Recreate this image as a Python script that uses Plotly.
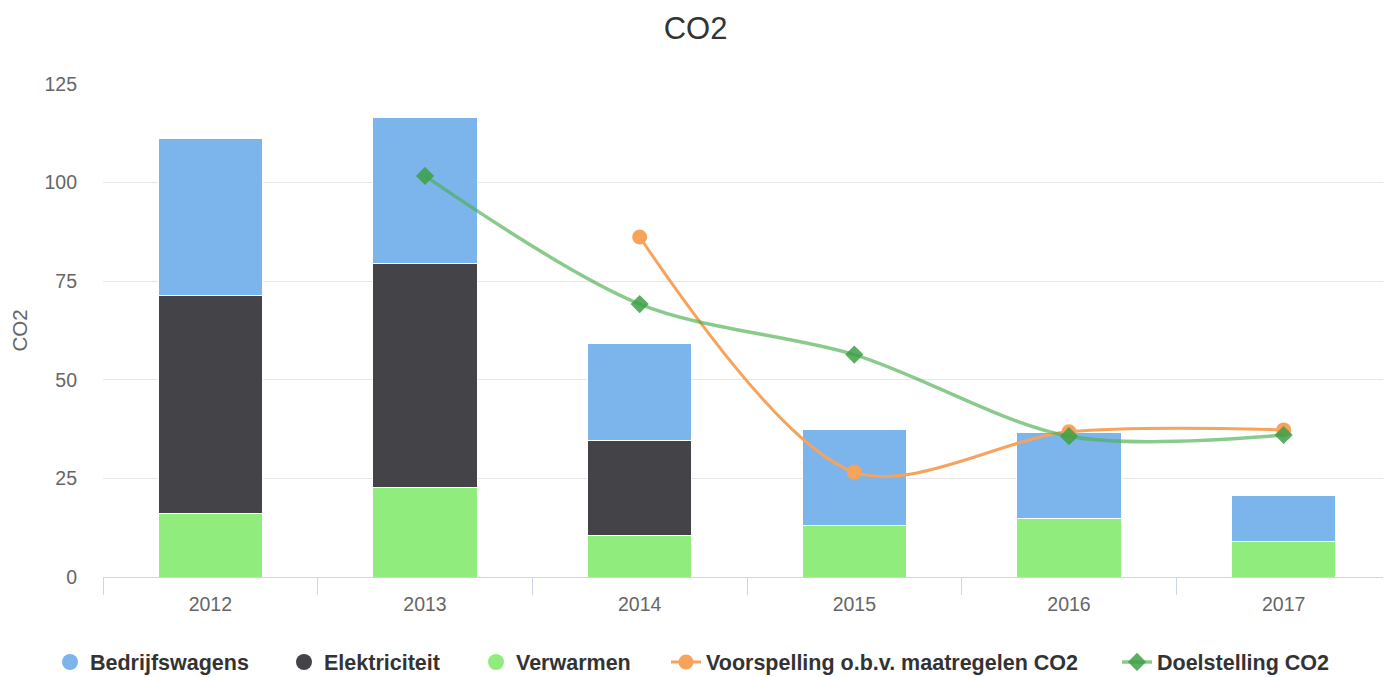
import plotly.graph_objects as go

# data
years = ['2012', '2013', '2014', '2015', '2016', '2017']
bedrijfswagens = [39.8, 37.0, 24.4, 24.5, 21.8, 11.7]
elektriciteit = [55.5, 56.6, 24.1, 0, 0, 0]
verwarmen = [16.0, 22.8, 10.6, 13.0, 14.9, 8.9]
voorspelling_years = ['2014', '2015', '2016', '2017']
voorspelling = [86.2, 26.6, 36.8, 37.3]
doelstelling_years = ['2013', '2014', '2015', '2016', '2017']
doelstelling = [101.7, 69.2, 56.4, 35.7, 36.0]

FONT = 'Liberation Sans, Arial, Helvetica, sans-serif'
c_blue = '#7cb5ec'
c_dark = '#434348'
c_green = '#90ed7d'
c_orange = '#f7a35c'

# page body has an 8px margin, so the figure is a bit smaller than the window
W, H = 1383, 669

fig = go.Figure()

# stacked bars (bottom first)
for name, vals, col in [('Verwarmen', verwarmen, c_green),
                        ('Elektriciteit', elektriciteit, c_dark),
                        ('Bedrijfswagens', bedrijfswagens, c_blue)]:
    fig.add_trace(go.Bar(x=years, y=vals, name=name, marker_color=col,
                         marker_line=dict(color='white', width=1),
                         legendgroup=name, showlegend=False))

# legend entries with round symbols like the original, one legend box each
leg_names = ['legend', 'legend2', 'legend3', 'legend4', 'legend5']
for name, col, lg in [('Bedrijfswagens', c_blue, 'legend'), ('Elektriciteit', c_dark, 'legend2'),
                      ('Verwarmen', c_green, 'legend3')]:
    fig.add_trace(go.Scatter(x=[None], y=[None], mode='markers', name=name,
                             legendgroup=name, legend=lg,
                             marker=dict(symbol='circle', size=22, color=col)))

fig.add_trace(go.Scatter(x=voorspelling_years, y=voorspelling, name='Voorspelling o.b.v. maatregelen CO2',
                         mode='lines+markers', legend='legend4',
                         line=dict(color=c_orange, width=3, shape='spline', smoothing=0.9),
                         marker=dict(symbol='circle', size=15, color=c_orange)))
fig.add_trace(go.Scatter(x=doelstelling_years, y=doelstelling, name='Doelstelling CO2',
                         mode='lines+markers', legend='legend5',
                         line=dict(color='rgba(76,175,80,0.65)', width=3.5, shape='spline', smoothing=0.9),
                         marker=dict(symbol='diamond', size=14, color='rgba(60,160,70,0.85)')))

leg_font = dict(size=21.5, color='#333333', family=FONT, weight='bold')
symbol_x = [64, 298, 490, 680, 1131]
legends = {}
for lg, sx in zip(leg_names, symbol_x):
    legends[lg] = dict(orientation='h', x=(sx - 22) / W, xref='container', xanchor='left',
                       y=1 - 654 / H, yref='container', yanchor='middle',
                       font=leg_font, itemsizing='trace', bgcolor='rgba(0,0,0,0)')

fig.update_layout(
    width=W, height=H,
    margin=dict(l=95, r=0, t=76, b=100, autoexpand=False),
    paper_bgcolor='white', plot_bgcolor='white',
    font=dict(family=FONT, color='#666666', size=19.5),
    title=dict(text='CO2', x=0.5 * 1391 / W - 8 / W, xref='container', xanchor='center',
               y=1 - 20 / H, yref='container', yanchor='middle',
               font=dict(size=31, color='#333333', family=FONT)),
    barmode='stack', bargap=0.515,
    xaxis=dict(type='category', categoryorder='array', categoryarray=years,
               tickson='boundaries', ticks='outside', ticklen=17, tickcolor='#ccd6eb',
               showline=True, linecolor='#ccd6eb', linewidth=1, showgrid=False,
               ticklabelstandoff=10, tickfont=dict(size=19.5, color='#666666'),
               automargin=False),
    yaxis=dict(range=[0, 125], dtick=25, showgrid=True, gridcolor='#e6e6e6', gridwidth=1,
               zeroline=False, showline=False, ticks='', ticklabelstandoff=25,
               tickfont=dict(size=19.5, color='#666666'),
               title=dict(text='CO2', standoff=19, font=dict(size=20.5, color='#666666')),
               automargin=False),
    **legends,
)

fig.write_html('out.html')
